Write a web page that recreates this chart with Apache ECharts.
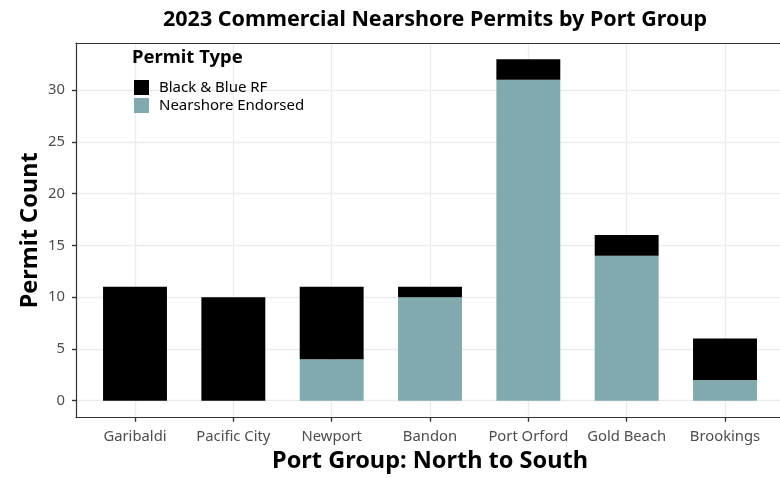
<!DOCTYPE html>
<html><head><meta charset="utf-8">
<script src="https://cdn.jsdelivr.net/npm/echarts@6/dist/echarts.min.js"></script>
<style>html,body{margin:0;padding:0;background:#fff}#c{width:780px;height:478px}</style>
</head><body><div id="c"></div>
<script>
const categories = ['Garibaldi','Pacific City','Newport','Bandon','Port Orford','Gold Beach','Brookings'];
const nearshoreEndorsed = [0, 0, 4, 10, 31, 14, 2];
const blackBlueRF = [11, 10, 7, 1, 2, 2, 4];
const yTicks = [0, 5, 10, 15, 20, 25, 30];

const FONT = 'Noto Sans';
const chart = echarts.init(document.getElementById('c'), null, {renderer:'canvas'});
const yMax = 34.56, yMin = -1.65;
const frameLine = {show: true, lineStyle: {color: '#333', width: 1.2}};
chart.setOption({
  animation: false,
  textStyle: {fontFamily: FONT},
  title: [{
    text: '2023 Commercial Nearshore Permits by Port Group',
    left: 430, top: 4, textAlign: 'center',
    textStyle: {fontFamily: FONT, fontWeight: 'bold', fontSize: 21.5, color: '#000'}
  },{
    text: 'Permit Type', left: 127, top: 43,
    textStyle: {fontFamily: FONT, fontWeight: 'bold', fontSize: 18.5, color: '#000'}
  }],
  legend: {
    orient: 'vertical', left: 129, top: 75, itemWidth: 15, itemHeight: 15, itemGap: 3,
    icon: 'rect', data: ['Black & Blue RF','Nearshore Endorsed'],
    textStyle: {fontFamily: FONT, fontSize: 15, color: '#000', padding: [0,0,0,5], lineHeight: 15}
  },
  grid: [
    {left: 76, top: 43, width: 708, height: 374.7, outerBoundsMode: 'none', containLabel: false},
    {left: 76, top: 43, width: 708, height: 357.7, outerBoundsMode: 'none', containLabel: false},
    {left: 135, top: 43, width: 590, height: 374.7, outerBoundsMode: 'none', containLabel: false}
  ],
  xAxis: [
    {gridIndex: 0, type: 'value', min: 0, max: 1, position: 'bottom', axisLine: frameLine, axisTick:{show:false}, axisLabel:{show:false}, splitLine:{show:false},
     name: 'Port Group: North to South', nameLocation: 'middle', nameGap: 32,
     nameTextStyle: {fontFamily: FONT, fontWeight: 'bold', fontSize: 23.5, color: '#000'}, z: 10},
    {gridIndex: 0, type: 'value', min: 0, max: 1, position: 'top', axisLine: frameLine, axisTick:{show:false}, axisLabel:{show:false}, splitLine:{show:false}, z: 10},
    {gridIndex: 1, type: 'value', min: 0, max: 1, show: false},
    {gridIndex: 2, type: 'category', data: categories, boundaryGap: false, position: 'bottom',
     axisLine: {show: true, onZero: false, lineStyle: {color: '#333', width: 1.2}},
     axisTick: {show: true, interval: 0, inside: false, length: 4, lineStyle: {color: '#333', width: 1.4}},
     axisLabel: {interval: 0, fontFamily: FONT, fontSize: 14.8, color: '#4D4D4D', margin: 12, hideOverlap: false},
     splitLine: {show: true, interval: 0, lineStyle: {color: '#EBEBEB', width: 1.3}}}
  ],
  yAxis: [
    {gridIndex: 0, type: 'value', min: 0, max: 1, position: 'left', axisLine: frameLine, axisTick:{show:false}, axisLabel:{show:false}, splitLine:{show:false},
     name: 'Permit Count', nameLocation: 'middle', nameGap: 34, nameRotate: 90,
     nameTextStyle: {fontFamily: FONT, fontWeight: 'bold', fontSize: 23.5, color: '#000'}, z: 10},
    {gridIndex: 1, type: 'value', min: 0, max: yMax, interval: 5,
     axisLine: {show: false},
     axisTick: {show: true, length: 4, customValues: yTicks, lineStyle: {color: '#333', width: 1.4}},
     axisLabel: {fontFamily: FONT, fontSize: 14.8, color: '#4D4D4D', margin: 11, customValues: yTicks},
     splitLine: {show: true, lineStyle: {color: '#EBEBEB', width: 1.3}}},
    {gridIndex: 2, type: 'value', min: yMin, max: yMax, show: false}
  ],
  series: [
    {name: 'Nearshore Endorsed', type: 'bar', stack: 'p', xAxisIndex: 3, yAxisIndex: 2,
     data: nearshoreEndorsed, barWidth: '65%', itemStyle: {color: '#82A9AD'}},
    {name: 'Black & Blue RF', type: 'bar', stack: 'p', xAxisIndex: 3, yAxisIndex: 2,
     data: blackBlueRF, barWidth: '65%', itemStyle: {color: '#000'}}
  ]
});
</script></body></html>
